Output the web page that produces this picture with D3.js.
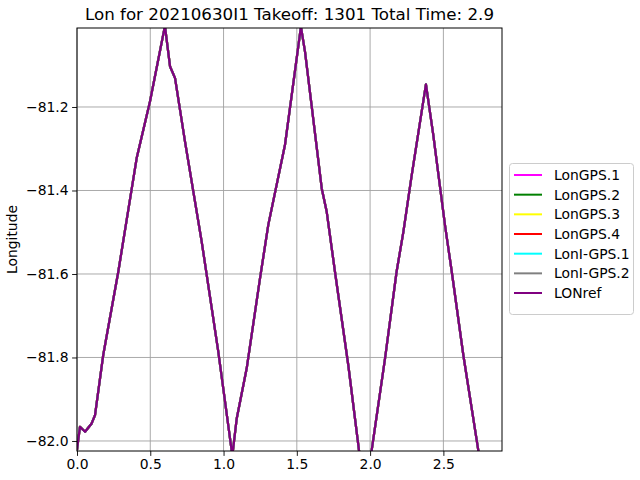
<!DOCTYPE html>
<html>
<head>
<meta charset="utf-8">
<script src="https://cdn.jsdelivr.net/npm/d3@7"></script>
<style>
  html, body { margin: 0; padding: 0; background: #fff; }
  svg { display: block; font-family: "DejaVu Sans", sans-serif; }
</style>
</head>
<body>
<svg id="chart" width="640" height="480"></svg>
<script>
// ---- data ----
const timeVals = [0.000, 0.020, 0.055, 0.100, 0.123, 0.179, 0.282, 0.407, 0.498, 0.600,
  0.635, 0.669, 0.737, 0.851, 0.964, 1.060, 1.090, 1.158, 1.249, 1.305,
  1.419, 1.453, 1.528, 1.556, 1.670, 1.704, 1.760, 1.851, 1.924, 1.965,
  2.011, 2.102, 2.181, 2.227, 2.284, 2.381, 2.431, 2.511, 2.557, 2.636,
  2.738, 2.820, 2.900];
const lonVals = [-82.022, -81.966, -81.978, -81.958, -81.938, -81.794, -81.594, -81.323, -81.187, -81.006,
  -81.103, -81.131, -81.283, -81.523, -81.786, -82.035, -81.946, -81.826, -81.610, -81.483,
  -81.291, -81.203, -81.008, -81.068, -81.395, -81.451, -81.594, -81.818, -82.022, -82.125,
  -82.022, -81.802, -81.594, -81.499, -81.363, -81.146, -81.267, -81.483, -81.594, -81.794,
  -82.022, -82.200, -82.380];
const seriesNames = ["LonGPS.1", "LonGPS.2", "LonGPS.3", "LonGPS.4", "LonI-GPS.1", "LonI-GPS.2", "LONref"];
const seriesColors = ["magenta", "green", "yellow", "red", "cyan", "gray", "purple"];
// every sensor series coincides with the reference track at this scale
const seriesValues = [lonVals, lonVals, lonVals, lonVals, lonVals, lonVals, lonVals];
const xTicks = [0.0, 0.5, 1.0, 1.5, 2.0, 2.5];
const yTicks = [-82.0, -81.8, -81.6, -81.4, -81.2];
const titleText = "Lon for 20210630I1 Takeoff: 1301 Total Time: 2.9";
const yLabel = "Longitude";

// ---- layout ----
const svg = d3.select("#chart");
const L = 77, R = 502, T = 28, B = 451;
const x = d3.scaleLinear().domain([0, 2.9]).range([L, R]);
const y = d3.scaleLinear().domain([-82.024, -81.0108]).range([B, T]);
const fmt = d => d3.format(".1f")(d).replace("-", "\u2212");

// grid
const grid = svg.append("g");
grid.selectAll("line.vx").data(xTicks).join("line")
  .attr("x1", d => x(d)).attr("x2", d => x(d)).attr("y1", T).attr("y2", B)
  .attr("stroke", "#a0a0a0").attr("stroke-width", 0.9);
grid.selectAll("line.hy").data(yTicks).join("line")
  .attr("x1", L).attr("x2", R).attr("y1", d => y(d)).attr("y2", d => y(d))
  .attr("stroke", "#a0a0a0").attr("stroke-width", 0.9);

// lines
svg.append("clipPath").attr("id", "clip").append("rect")
  .attr("x", L).attr("y", T).attr("width", R - L).attr("height", B - T);
const line = d3.line().x((d, i) => x(timeVals[i])).y(d => y(d));
svg.append("g").attr("clip-path", "url(#clip)")
  .selectAll("path").data(seriesValues).join("path")
  .attr("d", d => line(d))
  .attr("fill", "none")
  .attr("stroke", (d, i) => seriesColors[i])
  .attr("stroke-width", 2.2)
  .attr("stroke-linejoin", "round");

// axes
const xAxis = d3.axisBottom(x).tickValues(xTicks).tickFormat(fmt).tickSize(4.9).tickPadding(3.5);
const yAxis = d3.axisLeft(y).tickValues(yTicks).tickFormat(fmt).tickSize(4.9).tickPadding(3.5);
const gx = svg.append("g").attr("transform", `translate(0,${B})`).call(xAxis);
const gy = svg.append("g").attr("transform", `translate(${L},0)`).call(yAxis);
[gx, gy].forEach(g => {
  g.select(".domain").remove();
  g.selectAll("line").attr("stroke", "#000").attr("stroke-width", 0.9);
  g.selectAll("text").attr("fill", "#000").attr("font-size", "13.9px")
    .attr("font-family", "DejaVu Sans, sans-serif");
});

// frame
svg.append("rect").attr("x", L).attr("y", T).attr("width", R - L).attr("height", B - T)
  .attr("fill", "none").attr("stroke", "#000").attr("stroke-width", 1);

// title
svg.append("text").attr("x", (L + R) / 2).attr("y", 20).attr("text-anchor", "middle")
  .attr("font-size", "16.7px").attr("fill", "#000").text(titleText);

// y label
svg.append("text").attr("transform", `translate(17,${(T + B) / 2}) rotate(-90)`)
  .attr("text-anchor", "middle").attr("font-size", "13.9px").attr("fill", "#000").text(yLabel);

// legend
const lg = svg.append("g");
lg.append("rect").attr("x", 509.5).attr("y", 163.5).attr("width", 124).attr("height", 151)
  .attr("rx", 3).attr("fill", "#fff").attr("fill-opacity", 0.8)
  .attr("stroke", "#cccccc").attr("stroke-width", 1);
const items = lg.selectAll("g.item").data(seriesNames).join("g")
  .attr("transform", (d, i) => `translate(0,${175 + i * 19.67})`);
items.append("line").attr("x1", 514).attr("x2", 542).attr("y1", 0).attr("y2", 0)
  .attr("stroke", (d, i) => seriesColors[i]).attr("stroke-width", 2);
items.append("text").attr("x", 554).attr("y", 0).attr("dy", "0.36em")
  .attr("font-size", "13.9px").attr("fill", "#000").text(d => d);
</script>
</body>
</html>
